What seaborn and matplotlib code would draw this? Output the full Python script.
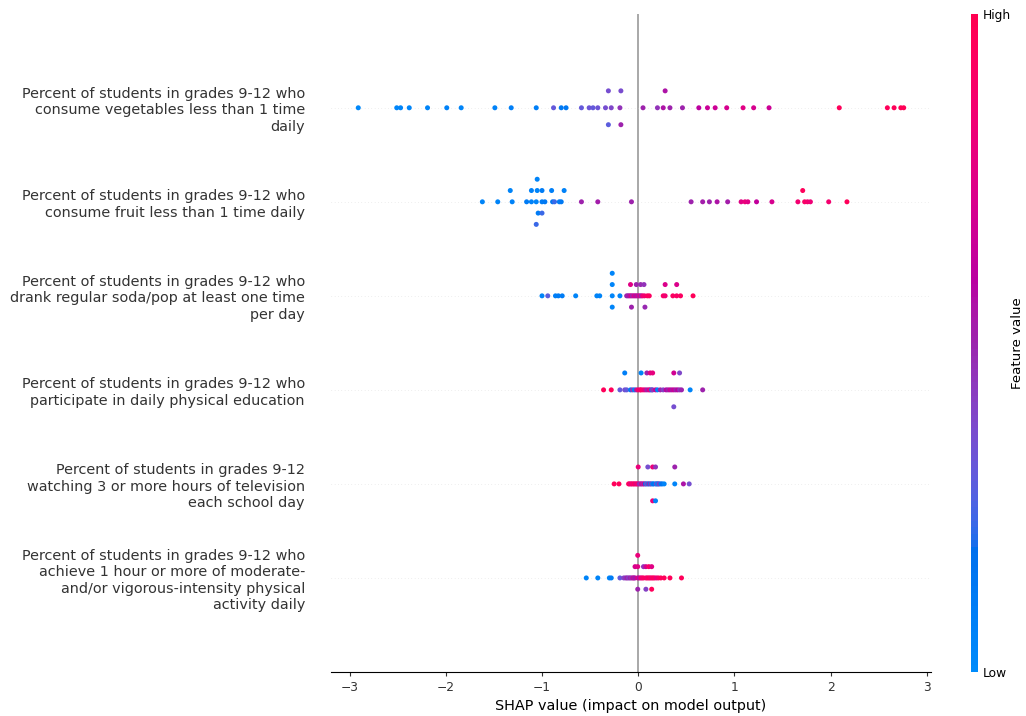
import numpy as np
import pandas as pd
import matplotlib
matplotlib.use("Agg")
import matplotlib.pyplot as plt
from matplotlib.colors import ListedColormap, Normalize
from matplotlib.cm import ScalarMappable
import seaborn as sns

# ---------------------------------------------------------------------------
# Data: SHAP value per state and the (normalised) feature value for colouring.
# Within each feature, entries are listed row-wise: base row first, then the
# points that stack above/below in the swarm.
# ---------------------------------------------------------------------------
features = [
    "Percent of students in grades 9-12 who\nconsume vegetables less than 1 time\ndaily",
    "Percent of students in grades 9-12 who\nconsume fruit less than 1 time daily",
    "Percent of students in grades 9-12 who\ndrank regular soda/pop at least one time\nper day",
    "Percent of students in grades 9-12 who\nparticipate in daily physical education",
    "Percent of students in grades 9-12\nwatching 3 or more hours of television\neach school day",
    "Percent of students in grades 9-12 who\nachieve 1 hour or more of moderate-\nand/or vigorous-intensity physical\nactivity daily",
]

veg_shap = [-2.91, -2.51, -2.47, -2.38, -2.19, -1.99, -1.84, -1.49, -1.32, -1.06,
            -0.88, -0.80, -0.75, -0.59, -0.51, -0.47, -0.42, -0.34, -0.28, -0.19,
            0.05, 0.20, 0.26, 0.33, 0.46, 0.63, 0.72, 0.80, 0.92, 1.09,
            1.20, 1.36, 2.09, 2.59, 2.66, 2.73, 2.76,
            -0.31, -0.18, 0.28,
            -0.31, -0.18]
veg_value = [0.02, 0.03, 0.05, 0.04, 0.05, 0.06, 0.05, 0.06, 0.08, 0.08,
             0.30, 0.12, 0.12, 0.30, 0.32, 0.30, 0.32, 0.35, 0.38, 0.45,
             0.50, 0.45, 0.55, 0.50, 0.50, 0.60, 0.65, 0.66, 0.70, 0.75,
             0.70, 0.66, 0.95, 0.95, 0.96, 0.97, 0.97,
             0.35, 0.36, 0.55,
             0.28, 0.50]

fruit_shap = [-1.62, -1.46, -1.31, -1.16, -1.11, -1.06, -1.00, -0.97, -0.89, -0.87,
              -0.82, -0.80, -0.59, -0.42, -0.07, 0.55, 0.67, 0.74, 0.82, 0.93,
              1.07, 1.11, 1.14, 1.23, 1.39, 1.66, 1.73, 1.76, 1.79, 1.98, 2.17,
              -1.33, -1.11, -1.05, -1.00, -0.90, -0.77, 1.71,
              -1.04, -1.00,
              -1.05,
              -1.06]
fruit_value = [0.05, 0.05, 0.06, 0.10, 0.06, 0.05, 0.10, 0.12, 0.15, 0.22,
               0.10, 0.12, 0.50, 0.52, 0.50, 0.50, 0.52, 0.50, 0.55, 0.52,
               0.75, 0.80, 0.75, 0.62, 0.70, 0.85, 0.90, 0.86, 0.82, 0.86, 0.95,
               0.05, 0.06, 0.04, 0.10, 0.08, 0.06, 0.95,
               0.10, 0.22,
               0.05,
               0.22]

soda_shap = [-1.00, -0.94, -0.86, -0.83, -0.79, -0.65, -0.43, -0.40, -0.27, -0.19,
             -0.12, -0.105, -0.09, -0.075, -0.06, -0.045, -0.03, -0.015, 0.0, 0.015,
             0.03, 0.045, 0.065,
             0.095, 0.115, 0.26, 0.28, 0.36, 0.40, 0.44, 0.57,
             -0.27, -0.08, -0.02, 0.025, 0.06, 0.28, 0.40,
             -0.27, -0.07, 0.07,
             -0.27]
soda_value = [0.05, 0.28, 0.08, 0.10, 0.10, 0.05, 0.05, 0.05, 0.04, 0.05,
              0.50, 0.52, 0.55, 0.70, 0.48, 0.72, 0.55, 0.70, 0.52, 0.75,
              0.50, 0.80, 0.85,
              0.92, 0.92, 0.90, 0.85, 0.92, 0.90, 0.92, 0.96,
              0.04, 0.75, 0.50, 0.48, 0.45, 0.72, 0.72,
              0.04, 0.50, 0.48,
              0.04]

pe_shap = [-0.36, -0.28, -0.19, -0.14, -0.12, -0.08, -0.06, -0.04, -0.02, 0.00,
           0.02, 0.03, 0.05, 0.07, 0.09, 0.11, 0.125, 0.14, 0.15, 0.18,
           0.20, 0.23, 0.26, 0.29, 0.31, 0.33, 0.35, 0.37, 0.39, 0.41,
           0.43, 0.45, 0.54, 0.67,
           -0.14, 0.03, 0.09, 0.125, 0.15, 0.37, 0.43,
           0.37]
pe_value = [0.95, 0.95, 0.30, 0.35, 0.30, 0.10, 0.45, 0.05, 0.50, 0.90,
            0.80, 0.90, 0.85, 0.75, 0.50, 0.70, 0.75, 0.10, 0.45, 0.65,
            0.05, 0.50, 0.40, 0.60, 0.50, 0.65, 0.55, 0.65, 0.50, 0.60,
            0.45, 0.50, 0.05, 0.50,
            0.08, 0.05, 0.50, 0.75, 0.78, 0.68, 0.38,
            0.35]

tv_shap = [-0.25, -0.20, -0.10, -0.09, -0.075, -0.065, -0.05, -0.04, -0.025, -0.015,
           0.0, 0.01, 0.025, 0.035, 0.05, 0.06, 0.075, 0.085, 0.10, 0.11,
           0.125, 0.135, 0.15, 0.16, 0.18, 0.19, 0.20, 0.21, 0.22, 0.235,
           0.25, 0.27, 0.38, 0.47, 0.53,
           0.0, 0.10, 0.15, 0.18, 0.38,
           0.15, 0.18]
tv_value = [0.95, 0.95, 0.95, 0.90, 0.75, 0.90, 0.80, 0.95, 0.70, 0.90,
            0.85, 0.50, 0.45, 0.70, 0.45, 0.70, 0.15, 0.40, 0.05, 0.50,
            0.10, 0.45, 0.05, 0.15, 0.10, 0.40, 0.05, 0.20, 0.45, 0.10,
            0.15, 0.05, 0.05, 0.55, 0.35,
            0.80, 0.35, 0.80, 0.45, 0.50,
            0.80, 0.05]

mvpa_shap = [-0.54, -0.42, -0.30, -0.28, -0.19, -0.15, -0.13, -0.115, -0.10, -0.085,
             -0.07, -0.055, -0.045, -0.033, -0.005, 0.01, 0.025, 0.04, 0.055, 0.08,
             0.095, 0.11, 0.125, 0.14, 0.155, 0.17, 0.19, 0.21, 0.235, 0.27,
             0.33, 0.45,
             -0.033, -0.005, 0.055, 0.08, 0.11, 0.14,
             -0.005, 0.08, 0.14,
             -0.005]
mvpa_value = [0.05, 0.05, 0.05, 0.10, 0.30, 0.40, 0.45, 0.50, 0.40, 0.50,
              0.45, 0.70, 0.50, 0.55, 0.75, 0.55, 0.80, 0.85, 0.90, 0.90,
              0.85, 0.95, 0.90, 0.85, 0.95, 0.90, 0.80, 0.90, 0.95, 0.95,
              0.95, 0.95,
              0.70, 0.75, 0.45, 0.70, 0.90, 0.75,
              0.50, 0.40, 0.95,
              0.80]

shap_rows = [veg_shap, fruit_shap, soda_shap, pe_shap, tv_shap, mvpa_shap]
value_rows = [veg_value, fruit_value, soda_value, pe_value, tv_value, mvpa_value]
xticks = [-3, -2, -1, 0, 1, 2, 3]


# ---------------------------------------------------------------------------
# Blue -> red colormap interpolated in CIE LCh space
# ---------------------------------------------------------------------------
def lch_to_rgb(l, c, h):
    a = c * np.cos(h)
    b = c * np.sin(h)
    fy = (l + 16.0) / 116.0
    fx = fy + a / 500.0
    fz = fy - b / 200.0

    def finv(t):
        return t ** 3 if t ** 3 > 0.008856 else (t - 16.0 / 116.0) / 7.787

    X, Y, Z = 0.95047 * finv(fx), 1.0 * finv(fy), 1.08883 * finv(fz)
    lin = np.array([
        3.2406 * X - 1.5372 * Y - 0.4986 * Z,
        -0.9689 * X + 1.8758 * Y + 0.0415 * Z,
        0.0557 * X - 0.2040 * Y + 1.0570 * Z,
    ])
    srgb = np.where(lin > 0.0031308, 1.055 * np.abs(lin) ** (1 / 2.4) - 0.055, 12.92 * lin)
    return np.clip(srgb, 0, 1)


nsteps = 100
blue_lch = (54.0, 70.0, 4.6588)
red_lch = (54.0, 90.0, 0.35470565 + 2 * np.pi)
l_vals = np.concatenate([np.linspace(blue_lch[0], 40.0, nsteps // 2),
                         np.linspace(40.0, red_lch[0], nsteps // 2)])
c_vals = np.linspace(blue_lch[1], red_lch[1], nsteps)
h_vals = np.linspace(blue_lch[2], red_lch[2], nsteps)
red_blue = ListedColormap([lch_to_rgb(l, c, h) for l, c, h in zip(l_vals, c_vals, h_vals)],
                          name="red_blue")


# ---------------------------------------------------------------------------
# Beeswarm layout: bin the values, then stack points of a bin alternately
# above and below the row centre.
# ---------------------------------------------------------------------------
def swarm_offsets(values, nbins=100, row_height=0.4):
    values = np.asarray(values, dtype=float)
    quant = np.round(nbins * (values - values.min()) / (values.max() - values.min() + 1e-8))
    order = np.argsort(quant, kind="stable")
    ys = np.zeros(len(values))
    layer, last_bin = 0, -1
    for i in order:
        if quant[i] != last_bin:
            layer = 0
        ys[i] = np.ceil(layer / 2) * ((layer % 2) * 2 - 1)
        layer += 1
        last_bin = quant[i]
    ys *= 0.9 * (row_height / np.max(ys + 1))
    return ys


n = len(features)
frames = []
for k, (sv, fv) in enumerate(zip(shap_rows, value_rows)):
    pos = n - 1 - k
    frames.append(pd.DataFrame({
        "shap": sv,
        "value": fv,
        "pos": pos + swarm_offsets(sv),
    }))
df = pd.concat(frames, ignore_index=True)

# ---------------------------------------------------------------------------
# Figure
# ---------------------------------------------------------------------------
axis_color = "#333333"
fig = plt.figure(figsize=(10.26, 7.16), dpi=100)
ax = fig.add_axes([0.3226, 0.0615, 0.5848, 0.9193])

ax.axvline(0, color="#999999", lw=1.2, zorder=-1)
for k in range(n):
    ax.axhline(k, color="#cccccc", lw=0.4, dashes=(1, 5), zorder=-1)

sns.scatterplot(data=df, x="shap", y="pos", hue="value", palette=red_blue,
                hue_norm=(0, 1), s=13, linewidth=0, edgecolor="none",
                legend=False, ax=ax, zorder=3)

ax.set_ylim(-1, n)
ax.set_yticks(range(n))
ax.set_yticklabels(features[::-1], fontsize=10.4)
ax.set_xticks(xticks)
ax.set_xticklabels([f"{t}".replace("-", "\u2212") for t in xticks])
ax.set_xlabel("SHAP value (impact on model output)", fontsize=10.4)
ax.set_ylabel("")

ax.xaxis.set_ticks_position("bottom")
ax.yaxis.set_ticks_position("none")
for side in ("right", "top", "left"):
    ax.spines[side].set_visible(False)
ax.tick_params(color=axis_color, labelcolor=axis_color)
ax.tick_params("y", length=16, width=0.5, which="major", pad=2.8)
ax.tick_params("x", labelsize=8.8, width=0.8, length=2.8)

cax = fig.add_axes([0.9464, 0.0615, 0.0068, 0.9193])
sm = ScalarMappable(norm=Normalize(0, 1), cmap=red_blue)
sm.set_array([0, 1])
cb = fig.colorbar(sm, cax=cax, ticks=[0, 1])
cb.set_ticklabels(["Low", "High"])
cb.set_label("Feature value", size=9.6, labelpad=0)
cb.ax.tick_params(labelsize=8.8, length=0)
cb.outline.set_visible(False)

fig.savefig("out.png", dpi=100)
